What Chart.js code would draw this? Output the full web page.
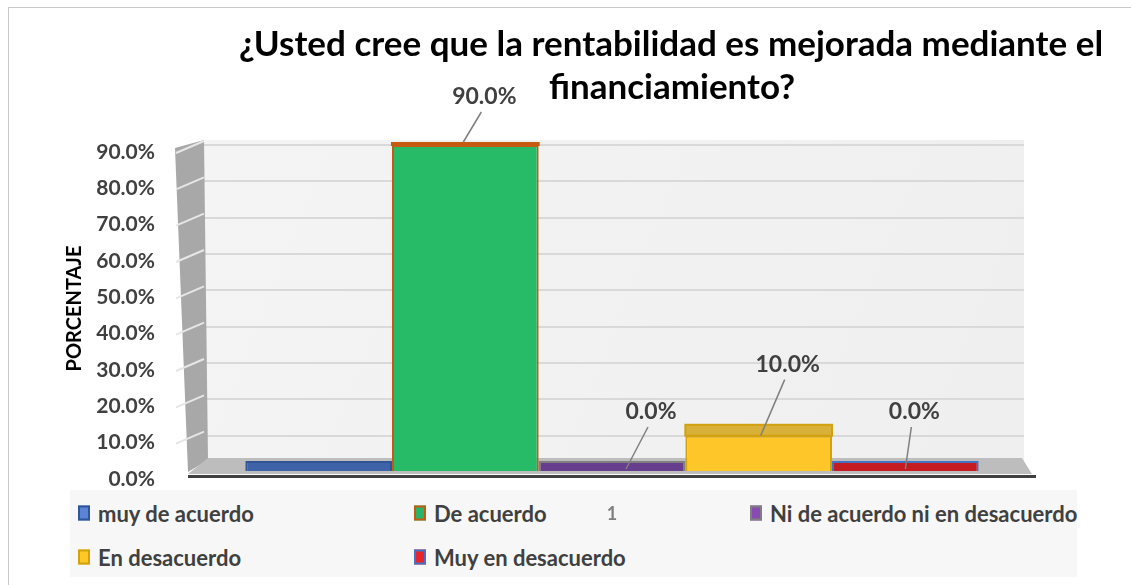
<!DOCTYPE html>
<html>
<head>
<meta charset="utf-8">
<script src="https://cdn.jsdelivr.net/npm/chart.js@4.4.0/dist/chart.umd.min.js"></script>
<style>
  html, body { margin: 0; padding: 0; background: #fff; overflow: hidden; }
  #wrap { position: relative; width: 1131px; height: 585px; font-family: Lato, sans-serif; }
  #frame { position: absolute; left: 8px; top: 7px; width: 1140px; height: 600px; border: 1px solid #c9c9c9; }
  #legend { position: absolute; left: 70px; top: 490px; width: 1007px; height: 87px; background: #f7f7f7; }
  .item { position: absolute; display: flex; align-items: center; font-weight: bold; font-size: 22px;
          color: #404040; white-space: nowrap; transform: translateY(-50%); }
  .sw { width: 8px; height: 11px; border: 2px solid; margin-right: 8px; }
  canvas { position: absolute; left: 0; top: 0; }
</style>
</head>
<body>
<div id="wrap">
  <div id="frame"></div>
  <div id="legend"></div>
  <canvas id="chart" width="1131" height="585"></canvas>
</div>
<script>
// Chart data
const titleLines = ['¿Usted cree que la rentabilidad es mejorada mediante el', 'financiamiento?'];
const categories = ['1'];
const seriesNames = ['muy de acuerdo', 'De acuerdo', 'Ni de acuerdo ni en desacuerdo', 'En desacuerdo', 'Muy en desacuerdo'];
const seriesValues = [0, 90, 0, 10, 0];
const yAxisTitle = 'PORCENTAJE';
const yMax = 90;
const yStep = 10;

// Colours
const fillColors   = ['#3f63a8', '#27bb68', '#673d8d', '#ffc629', '#c41c20'];
const borderColors = ['#2f5597', '#c55a11', '#7f7f7f', '#d2a10f', '#4472c4'];
const legendFills  = ['#5b84d6', '#2ab36a', '#8a4ab5', '#ffc824', '#e8252a'];
const topFaceColors = ['#2f4f8a', '#1f9a55', '#55307a', '#d6a617', '#a01518'];

// Where the value labels sit relative to their bar (null = no label)
const labelStyle = [
  null,
  { dx: 19, dy: -48, ax: -2, ay: -3 },
  { dx: 39, dy: -59, ax: 14, ay: -2 },
  { dx: 29, dy: -71, ax: 2, ay: 0 },
  { dx: 9, dy: -59, ax: 0, ay: -2 },
];

function fmt(v) {
  return v.toFixed(1) + '%';
}

// HTML legend built from the series arrays
const legendBox = document.getElementById('legend');
seriesNames.forEach((name, i) => {
  const item = document.createElement('div');
  item.className = 'item';
  item.style.left = (8 + (i % 3) * 336) + 'px';
  item.style.top = (23 + Math.floor(i / 3) * 44) + 'px';
  const sw = document.createElement('span');
  sw.className = 'sw';
  sw.style.background = legendFills[i];
  sw.style.borderColor = borderColors[i];
  item.appendChild(sw);
  item.appendChild(document.createTextNode(name));
  legendBox.appendChild(item);
});

// Back wall, left wall and floor to imitate the 3D look
const scenePlugin = {
  id: 'scene',
  beforeDraw(chart) {
    const { ctx, chartArea: a } = chart;
    const g = ctx.createLinearGradient(a.left, a.top, a.right, a.bottom);
    g.addColorStop(0, '#f4f4f4');
    g.addColorStop(1, '#efefef');
    ctx.save();
    ctx.fillStyle = g;
    ctx.fillRect(a.left + 4, a.top - 5, a.right - a.left - 4, a.bottom - a.top);
    ctx.restore();
  },
  beforeDatasetsDraw(chart) {
    const { ctx, chartArea: a } = chart;
    const y = chart.scales.y;
    ctx.save();
    // left wall
    ctx.fillStyle = '#a8a8a8';
    ctx.beginPath();
    ctx.moveTo(a.left - 25, a.top + 3);
    ctx.lineTo(a.left + 4, a.top - 5);
    ctx.lineTo(a.left + 8, a.bottom - 12);
    ctx.lineTo(a.left - 12, a.bottom);
    ctx.closePath();
    ctx.fill();
    ctx.strokeStyle = '#e6e6e6';
    ctx.lineWidth = 2;
    y.ticks.forEach(t => {
      if (t.value === 0) return;
      const py = y.getPixelForValue(t.value);
      ctx.beginPath();
      ctx.moveTo(a.left - 24, py + 8);
      ctx.lineTo(a.left + 4, py - 4);
      ctx.stroke();
    });
    // floor
    ctx.fillStyle = '#bdbdbd';
    ctx.beginPath();
    ctx.moveTo(a.left + 8, a.bottom - 14);
    ctx.lineTo(a.right - 2, a.bottom - 14);
    ctx.lineTo(a.right + 8, a.bottom + 2);
    ctx.lineTo(a.left - 12, a.bottom + 2);
    ctx.closePath();
    ctx.fill();
    ctx.fillStyle = '#404040';
    ctx.fillRect(a.left - 12, a.bottom + 3, a.right - a.left + 24, 3);
    ctx.restore();
  },
  afterDatasetsDraw(chart) {
    const { ctx, chartArea: a } = chart;
    ctx.save();
    chart.data.datasets.forEach((ds, i) => {
      const bar = chart.getDatasetMeta(i).data[0];
      const v = ds.data[0];
      const half = bar.width / 2;
      // darker top face on the raised bars
      if (v > 0) {
        const d = 2 + 10 * (bar.y - a.top) / (a.bottom - a.top);
        ctx.fillStyle = topFaceColors[i];
        ctx.globalAlpha = 0.85;
        ctx.fillRect(bar.x - half, bar.y - d, bar.width, d);
        ctx.globalAlpha = 1;
        ctx.strokeStyle = borderColors[i];
        ctx.lineWidth = 2;
        ctx.strokeRect(bar.x - half, bar.y - d, bar.width, d);
      }
      // value label with leader line
      const s = labelStyle[i];
      if (!s) return;
      const top = v > 0 ? bar.y : bar.base;
      const lx = bar.x + s.dx, ly = top + s.dy;
      ctx.strokeStyle = '#7f7f7f';
      ctx.lineWidth = 1.5;
      ctx.beginPath();
      ctx.moveTo(bar.x + s.ax, top + s.ay);
      ctx.lineTo(lx - 3, ly + 15);
      ctx.stroke();
      ctx.fillStyle = '#404040';
      ctx.font = 'bold 23px Lato';
      ctx.textAlign = 'center';
      ctx.textBaseline = 'middle';
      ctx.fillText(fmt(v), lx, ly);
    });
    ctx.restore();
  },
  afterDraw(chart) {
    const { ctx } = chart;
    ctx.save();
    ctx.fillStyle = '#000';
    ctx.font = 'bold 35px Lato';
    ctx.textAlign = 'center';
    ctx.textBaseline = 'middle';
    ctx.fillText(titleLines[0], 671, 45);
    ctx.fillText(titleLines[1], 672, 88);
    ctx.restore();
  }
};

const datasets = seriesNames.map((name, i) => ({
  label: name,
  data: [seriesValues[i]],
  backgroundColor: fillColors[i],
  borderColor: borderColors[i],
  borderWidth: 2,
  minBarLength: 11,
  categoryPercentage: 0.89,
  barPercentage: 1.0,
}));

new Chart(document.getElementById('chart'), {
  type: 'bar',
  data: { labels: categories, datasets: datasets },
  plugins: [scenePlugin],
  options: {
    responsive: false,
    animation: false,
    layout: { padding: { top: 145, right: 107, left: 0, bottom: 0 } },
    plugins: {
      legend: { display: false },
      title: { display: false },
      tooltip: { enabled: false },
    },
    scales: {
      x: {
        grid: { display: false, drawTicks: false },
        border: { display: false },
        ticks: { color: '#7f7f7f', font: { family: 'Lato', size: 18, weight: 'bold' }, padding: 31 },
        afterFit(s) { s.height = 113; },
      },
      y: {
        min: 0,
        max: yMax,
        ticks: {
          stepSize: yStep,
          padding: 45,
          labelOffset: 7,
          color: '#404040',
          font: { family: 'Lato', size: 21, weight: 'bold' },
          callback: v => fmt(v),
        },
        grid: { color: '#d9d9d9', lineWidth: 2, drawTicks: false },
        border: { display: false },
        title: {
          display: true,
          text: yAxisTitle,
          color: '#000',
          font: { family: 'Lato', size: 20, weight: 'bold' },
          padding: { top: 63, bottom: 0 },
        },
        afterFit(s) { s.width = 200; },
      },
    },
  },
});
</script>
</body>
</html>
